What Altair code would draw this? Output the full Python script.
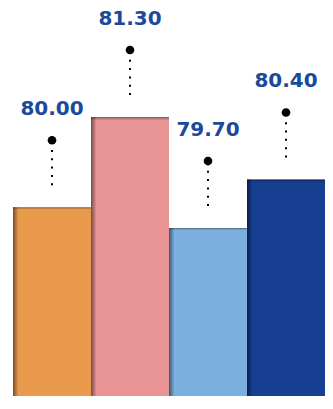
import altair as alt
import pandas as pd

categories = ["A", "B", "C", "D"]
values = [80.00, 81.30, 79.70, 80.40]
colors = ["#EA9A4C", "#E99494", "#7BAFDD", "#173F91"]

df = pd.DataFrame({"cat": categories, "value": values, "color": colors})

W, H = 312, 388
y_lo, y_hi = 77.280, 82.871

x = alt.X("cat:N", axis=None, sort=categories,
          scale=alt.Scale(paddingInner=0, paddingOuter=0))
y = alt.Y("value:Q", axis=None,
          scale=alt.Scale(domain=[y_lo, y_hi], zero=False, nice=False))

base = alt.Chart(df).encode(x=x)

bars = base.mark_bar().encode(
    y=y, y2=alt.datum(y_lo),
    color=alt.Color("color:N", scale=None),
)

left_shadow = base.mark_bar(
    fill=alt.Gradient(
        gradient="linear", x1=0, x2=1, y1=0, y2=0,
        stops=[alt.GradientStop(color="rgba(0,0,0,0.5)", offset=0),
               alt.GradientStop(color="rgba(0,0,0,0)", offset=0.07)],
    )
).encode(y=y, y2=alt.datum(y_lo))

top_shadow = base.mark_bar(
    fill=alt.Gradient(
        gradient="linear", x1=0, x2=0, y1=0, y2=1,
        stops=[alt.GradientStop(color="rgba(0,0,0,0.4)", offset=0),
               alt.GradientStop(color="rgba(0,0,0,0)", offset=0.012)],
    )
).encode(y=y, y2=alt.datum(y_lo))

dots_line = base.mark_rule(
    color="black", strokeWidth=2, strokeDash=[2, 6.33],
    yOffset=-57.3, y2Offset=-22,
).encode(y=y, y2="value:Q")

dot = base.mark_point(
    filled=True, color="black", size=75, opacity=1, yOffset=-67
).encode(y=y)

labels = base.mark_text(
    font="DejaVu Sans", fontWeight="bold", fontSize=20, color="#1C4A9B",
    yOffset=-98, baseline="middle",
).encode(y=y, text=alt.Text("value:Q", format=".2f"))

chart = alt.layer(bars, left_shadow, top_shadow, dots_line, dot, labels).properties(
    width=W, height=H,
    padding={"left": 5, "top": 0, "right": 0, "bottom": 0},
    autosize=alt.AutoSizeParams(type="none"),
).configure_view(stroke=None)

chart.save("out.html", embed_options={"renderer": "svg", "actions": False})
